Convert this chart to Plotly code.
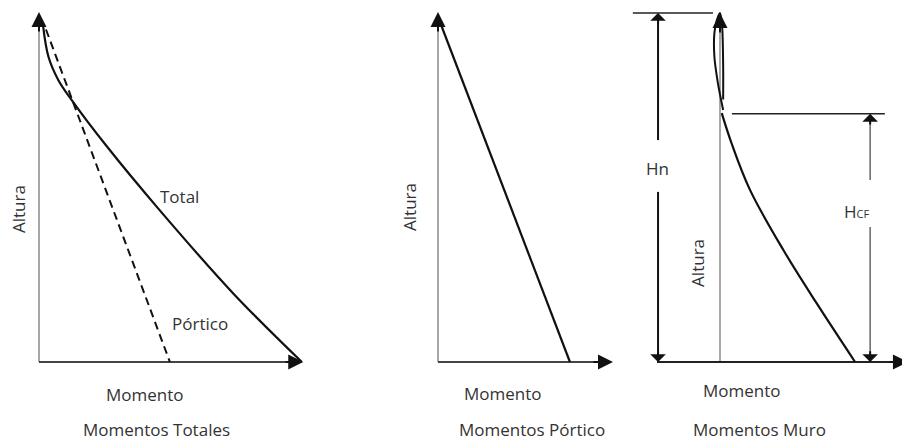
import plotly.graph_objects as go

# Momentos Totales (altura vs momento, unidades del dibujo)
momento_total = [0.12, 0.27, 0.55, 0.93, 1.93, 3.36, 5.55, 7.51]
altura_total = [9.58, 8.72, 8.06, 7.49, 6.17, 4.44, 1.96, 0.0]
momento_portico_tot = [0.2, 3.74]
altura_portico_tot = [9.5, 0.0]

# Momentos Pórtico
momento_portico = [0.1, 3.77]
altura_portico = [9.6, 0.0]

# Momentos Muro
momento_muro = [0.05, 0.33, 0.86, 1.81, 2.76, 3.86]
altura_muro = [7.11, 6.25, 4.91, 3.20, 1.68, 0.0]
momento_muro_sup = [0.09, -0.06, -0.16, -0.16, -0.09, 0.0, 0.06, 0.09, 0.09]
altura_muro_sup = [7.2, 7.97, 8.72, 9.4, 9.77, 9.97, 9.6, 8.5, 7.5]
hn = 9.97
hcf = 7.09

OFF = 8  # margen del body de la página
W, H = 910 - OFF, 442 - OFF
S = 35  # px por unidad
Y0 = 362 - OFF  # px del eje de momentos
panels = [("x", 0, 320, 39), ("x2", 320, 620, 438), ("x3", 620, 910, 720)]

INK = "#111111"
GRAY = "#8a8a8a"
TXT = "#333333"
FONT = "'Open Sans', sans-serif"

fig = go.Figure()


def line(xr, xs, ys, color=INK, width=2, dash="solid", shape="linear", smooth=1.0):
    fig.add_trace(go.Scatter(x=xs, y=ys, xaxis=xr, yaxis="y", mode="lines",
                             line=dict(color=color, width=width, dash=dash, shape=shape, smoothing=smooth),
                             hoverinfo="skip", showlegend=False))


def arrow(xr, x, y, ax, ay, head=2, size=1.5, width=2, color=INK):
    fig.add_annotation(xref=xr, yref="y", axref=xr, ayref="y", x=x, y=y, ax=ax, ay=ay,
                       text="", showarrow=True, arrowhead=head, arrowsize=size,
                       arrowwidth=width, arrowcolor=color)


def label(xr, x, y, text, size=17, angle=0):
    fig.add_annotation(xref=xr, yref="y", x=x, y=y, text=text, showarrow=False,
                       textangle=angle, font=dict(family=FONT, size=size, color=TXT))


# --- panel 1: Momentos Totales
line("x", [0, 0], [0, 9.8], color=GRAY, width=1.5)
line("x", [0, 7.3], [0, 0], color="#444", width=2)
arrow("x", 0, 10.0, 0, 9.4)
arrow("x", 7.55, 0, 7.0, 0)
line("x", momento_total, altura_total, width=2.2, shape="spline", smooth=1.0)
line("x", momento_portico_tot, altura_portico_tot, width=2, dash="8px,5px")
label("x", -0.6, 4.37, "Altura", angle=-90)
label("x", 4.0, 4.74, "Total")
label("x", 4.6, 1.11, "Pórtico")
label("x", 3.03, -0.94, "Momento")
label("x", 3.37, -1.94, "Momentos Totales")

# --- panel 2: Momentos Pórtico
line("x2", [0, 0], [0, 9.8], color=GRAY, width=1.5)
line("x2", [0, 4.8], [0, 0], color="#444", width=2)
arrow("x2", 0, 10.0, 0, 9.4)
arrow("x2", 5.0, 0, 4.4, 0)
line("x2", momento_portico, altura_portico, width=2.2)
label("x2", -0.8, 4.43, "Altura", angle=-90)
label("x2", 1.86, -0.89, "Momento")
label("x2", 2.69, -1.94, "Momentos Pórtico")

# --- panel 3: Momentos Muro
line("x3", [0, 0], [0, 9.8], color=GRAY, width=1.5)
line("x3", [-1.8, 5.2], [0, 0], color="#222", width=2)
arrow("x3", 0, hn, 0, hn - 0.6)
arrow("x3", 5.37, 0, 4.8, 0)
line("x3", momento_muro, altura_muro, width=2.2, shape="spline", smooth=1.0)
line("x3", momento_muro_sup, altura_muro_sup, width=2, shape="spline", smooth=0.8)
# cotas
line("x3", [-2.49, -0.2], [hn, hn], color="#222", width=1.5)
line("x3", [0.34, 4.71], [hcf, hcf], color="#222", width=1.5)
gap_hn = (4.86, 6.34)
line("x3", [-1.77, -1.77], [hn - 0.2, gap_hn[1]], color=INK, width=2)
line("x3", [-1.77, -1.77], [0.2, gap_hn[0]], color=INK, width=2)
arrow("x3", -1.77, hn, -1.77, hn - 0.35, head=1, size=1.3, width=2)
arrow("x3", -1.77, 0, -1.77, 0.35, head=1, size=1.3, width=2)
gap_hcf = (3.86, 5.2)
line("x3", [4.29, 4.29], [hcf - 0.2, gap_hcf[1]], color="#666", width=1.5)
line("x3", [4.29, 4.29], [0.2, gap_hcf[0]], color="#666", width=1.5)
arrow("x3", 4.29, hcf, 4.29, hcf - 0.35, head=1, size=1.3, width=2)
arrow("x3", 4.29, 0, 4.29, 0.35, head=1, size=1.3, width=2)
label("x3", -1.8, 5.54, "Hn")
label("x3", 3.91, 4.31, "H<span style='font-size:11px'>CF</span>")
label("x3", -0.63, 2.83, "Altura", angle=-90)
label("x3", 0.63, -0.8, "Momento")
label("x3", 1.14, -1.94, "Momentos Muro")

layout = dict(width=W, height=H, margin=dict(l=0, r=0, t=0, b=0),
              paper_bgcolor="white", plot_bgcolor="white",
              yaxis=dict(domain=[0, 1], range=[-(H - Y0) / S, Y0 / S], visible=False, fixedrange=True))
for name, p0, p1, orig in panels:
    key = "xaxis" if name == "x" else "xaxis" + name[1:]
    a, b = max(p0 - OFF, 0), p1 - OFF
    o = orig - OFF
    layout[key] = dict(domain=[a / W, b / W], range=[(a - o) / S, (b - o) / S],
                       visible=False, fixedrange=True, anchor="y")
fig.update_layout(**layout)

fig.write_html("out.html")
